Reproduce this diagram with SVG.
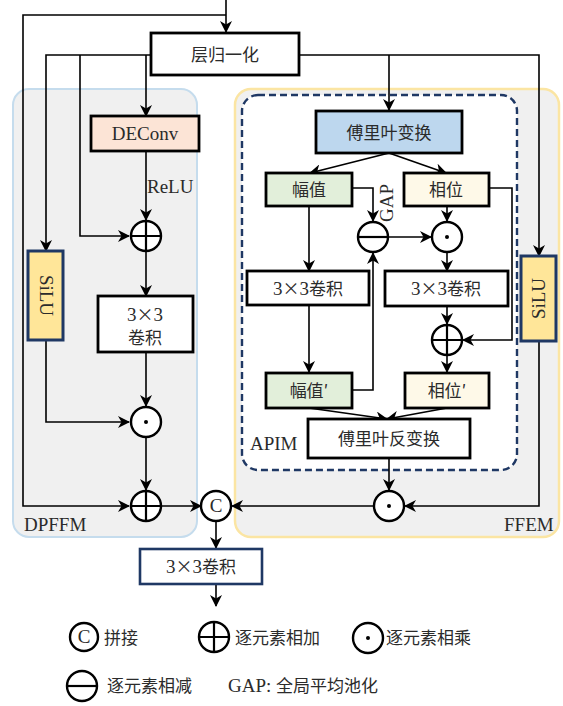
<svg xmlns="http://www.w3.org/2000/svg" width="563" height="706" viewBox="0 0 563 706">
  <style>
    .zh { font-family: "Noto Sans CJK SC", "Liberation Serif", serif; font-size: 17px; fill: #2b2b2b; }
    .en { font-family: "Liberation Serif", "DejaVu Serif", serif; font-size: 19px; fill: #2b2b2b; }
    .cj { font-family: "Noto Sans CJK SC", sans-serif; font-size: 17px; }
    .box { stroke: #000; stroke-width: 2.8; }
    .wire { fill: none; stroke: #000; stroke-width: 1.6; marker-end: url(#arr); }
    .op { fill: #fff; stroke: #000; stroke-width: 2.4; }
    .opl { stroke: #000; stroke-width: 2.2; }
    .silu { fill: #ffe699; stroke: #1f3864; stroke-width: 3; }
  </style>
  <defs>
    <marker id="arr" markerUnits="userSpaceOnUse" markerWidth="12" markerHeight="12" refX="11" refY="6" orient="auto">
      <path d="M0,0 L12,6 L0,12 L3.5,6 z" fill="#000"/>
    </marker>
  </defs>

  <rect width="563" height="706" fill="#fff"/>

  <!-- module containers -->
  <g id="dpffm">
    <rect x="13" y="89" width="184" height="448" rx="16" fill="#f0f0f0" stroke="#c5dced" stroke-width="2"/>
    <text class="en" x="24" y="531">DPFFM</text>
  </g>
  <g id="ffem">
    <rect x="235" y="89" width="324" height="448" rx="16" fill="#f0f0f0" stroke="#fbe5a3" stroke-width="2.5"/>
    <text class="en" x="504" y="531">FFEM</text>
  </g>
  <g id="apim">
    <rect x="242" y="95" width="275" height="375" rx="16" fill="#fff" stroke="#1f3864" stroke-width="2.4" stroke-dasharray="7,4"/>
    <text class="en" x="250" y="450">APIM</text>
  </g>

  <!-- connectors -->
  <g id="connectors">
    <path class="wire" d="M226,0 V32"/>
    <path class="wire" d="M226,15 H23 V506 H129"/>
    <path class="wire" d="M151,55 H46 V251"/>
    <path class="wire" d="M80,55 V236 H129"/>
    <path class="wire" d="M146,55 V116"/>
    <path class="wire" d="M299,55 H539 V256"/>
    <path class="wire" d="M389,55 V110"/>
    <path class="wire" d="M146,151 V220"/>
    <path class="wire" d="M146,252 V296"/>
    <path class="wire" d="M146,352 V406"/>
    <path class="wire" d="M46,340 V422 H129"/>
    <path class="wire" d="M146,438 V490"/>
    <path class="wire" d="M161,506 H201"/>
    <path class="wire" d="M216,521 V548"/>
    <path class="wire" d="M216,584 V606"/>

    <path class="wire" d="M389,153 L310,173"/>
    <path class="wire" d="M389,153 L446,173"/>
    <path class="wire" d="M352,188 H373 V221"/>
    <path class="wire" d="M309,206 V271"/>
    <path class="wire" d="M447,206 V221"/>
    <path class="wire" d="M388,237 H431"/>
    <path class="wire" d="M447,253 V271"/>
    <path class="wire" d="M309,305 V372"/>
    <path class="wire" d="M352,390 H373 V253"/>
    <path class="wire" d="M447,306 V324"/>
    <path class="wire" d="M489,188 H512 V340 H463"/>
    <path class="wire" d="M447,356 V372"/>
    <path class="wire" d="M309,408 L387,419"/>
    <path class="wire" d="M447,408 L387,419"/>
    <path class="wire" d="M389,458 V490"/>
    <path class="wire" d="M539,341 V506 H405"/>
    <path class="wire" d="M373,506 H232"/>
  </g>

  <!-- nodes -->
  <g id="layernorm">
    <rect class="box" x="151" y="33" width="148" height="42" fill="#fff"/>
    <text class="zh" x="225" y="61" text-anchor="middle" font-size="18">层归一化</text>
  </g>
  <g id="deconv">
    <rect class="box" x="91" y="116" width="108" height="35" fill="#fce4d6"/>
    <text class="en" x="145" y="140" text-anchor="middle" font-size="20">DEConv</text>
  </g>
  <text class="en" x="147" y="193">ReLU</text>
  <g id="add1">
    <circle class="op" cx="146" cy="236" r="15"/>
    <path class="opl" d="M131,236 H161 M146,221 V251"/>
  </g>
  <g id="silu-left">
    <rect class="silu" x="28" y="251" width="35" height="89"/>
    <text class="en" transform="translate(45.5,295.5) rotate(90)" text-anchor="middle" dy="6">SiLU</text>
  </g>
  <g id="conv-left">
    <rect class="box" x="98" y="296" width="95" height="56" fill="#fff"/>
    <text class="en" x="145" y="321" text-anchor="middle">3<tspan class="cj">×</tspan>3</text>
    <text class="zh" x="145" y="344" text-anchor="middle">卷积</text>
  </g>
  <g id="mul1">
    <circle class="op" cx="146" cy="422" r="15"/>
    <circle cx="146" cy="422" r="2" fill="#000"/>
  </g>
  <g id="add2">
    <circle class="op" cx="146" cy="506" r="15"/>
    <path class="opl" d="M131,506 H161 M146,491 V521"/>
  </g>
  <g id="concat">
    <circle class="op" cx="216" cy="506" r="15"/>
    <text class="en" x="216" y="512" text-anchor="middle" font-size="17">C</text>
  </g>
  <g id="conv-out">
    <rect x="140" y="549" width="122" height="35" fill="#fff" stroke="#1f3864" stroke-width="2.6"/>
    <text class="en" x="201" y="573" text-anchor="middle">3<tspan class="cj">×</tspan>3<tspan class="cj">卷积</tspan></text>
  </g>

  <g id="fft">
    <rect class="box" x="316" y="111" width="146" height="42" fill="#bdd7ee"/>
    <text class="zh" x="389" y="139" text-anchor="middle" font-size="18">傅里叶变换</text>
  </g>
  <g id="amp">
    <rect class="box" x="266" y="173" width="86" height="33" fill="#e2efda"/>
    <text class="zh" x="309" y="196" text-anchor="middle" font-size="18">幅值</text>
  </g>
  <g id="phase">
    <rect class="box" x="404" y="173" width="85" height="33" fill="#fef9e8"/>
    <text class="zh" x="446" y="196" text-anchor="middle" font-size="18">相位</text>
  </g>
  <text class="en" transform="translate(387,203) rotate(-90)" text-anchor="middle" dy="6" font-size="18">GAP</text>
  <g id="sub">
    <circle class="op" cx="373" cy="237" r="15"/>
    <path class="opl" d="M358,237 H388"/>
  </g>
  <g id="mul2">
    <circle class="op" cx="447" cy="237" r="15"/>
    <circle cx="447" cy="237" r="2" fill="#000"/>
  </g>
  <g id="conv-amp">
    <rect class="box" x="247" y="271" width="122" height="34" fill="#fff"/>
    <text class="en" x="308" y="295" text-anchor="middle">3<tspan class="cj">×</tspan>3<tspan class="cj">卷积</tspan></text>
  </g>
  <g id="conv-phase">
    <rect class="box" x="385" y="271" width="123" height="35" fill="#fff"/>
    <text class="en" x="446" y="295" text-anchor="middle">3<tspan class="cj">×</tspan>3<tspan class="cj">卷积</tspan></text>
  </g>
  <g id="add3">
    <circle class="op" cx="447" cy="340" r="15"/>
    <path class="opl" d="M432,340 H462 M447,325 V355"/>
  </g>
  <g id="amp2">
    <rect class="box" x="266" y="373" width="86" height="35" fill="#e2efda"/>
    <text class="zh" x="309" y="397" text-anchor="middle" font-size="18">幅值′</text>
  </g>
  <g id="phase2">
    <rect class="box" x="405" y="373" width="84" height="35" fill="#fef9e8"/>
    <text class="zh" x="447" y="397" text-anchor="middle" font-size="18">相位′</text>
  </g>
  <g id="ifft">
    <rect class="box" x="308" y="419" width="162" height="39" fill="#fff"/>
    <text class="zh" x="389" y="445" text-anchor="middle" font-size="18">傅里叶反变换</text>
  </g>
  <g id="silu-right">
    <rect class="silu" x="521" y="256" width="35" height="85"/>
    <text class="en" transform="translate(538.5,298.5) rotate(-90)" text-anchor="middle" dy="6">SiLU</text>
  </g>
  <g id="mul3">
    <circle class="op" cx="389" cy="506" r="15"/>
    <circle cx="389" cy="506" r="2" fill="#000"/>
  </g>

  <!-- legend -->
  <g id="legend">
    <circle class="op" cx="84" cy="637" r="14"/>
    <text class="en" x="84" y="643" text-anchor="middle" font-size="17">C</text>
    <text class="zh" x="104" y="644">拼接</text>

    <circle class="op" cx="214" cy="637" r="15"/>
    <path class="opl" d="M199,637 H229 M214,622 V652"/>
    <text class="zh" x="235" y="644">逐元素相加</text>

    <circle class="op" cx="368" cy="638" r="15"/>
    <circle cx="368" cy="638" r="2" fill="#000"/>
    <text class="zh" x="386" y="644">逐元素相乘</text>

    <circle class="op" cx="82" cy="686" r="15"/>
    <path class="opl" d="M67,686 H97"/>
    <text class="zh" x="107" y="692">逐元素相减</text>

    <text class="en" x="228" y="692">GAP: <tspan class="cj">全局平均池化</tspan></text>
  </g>
</svg>
